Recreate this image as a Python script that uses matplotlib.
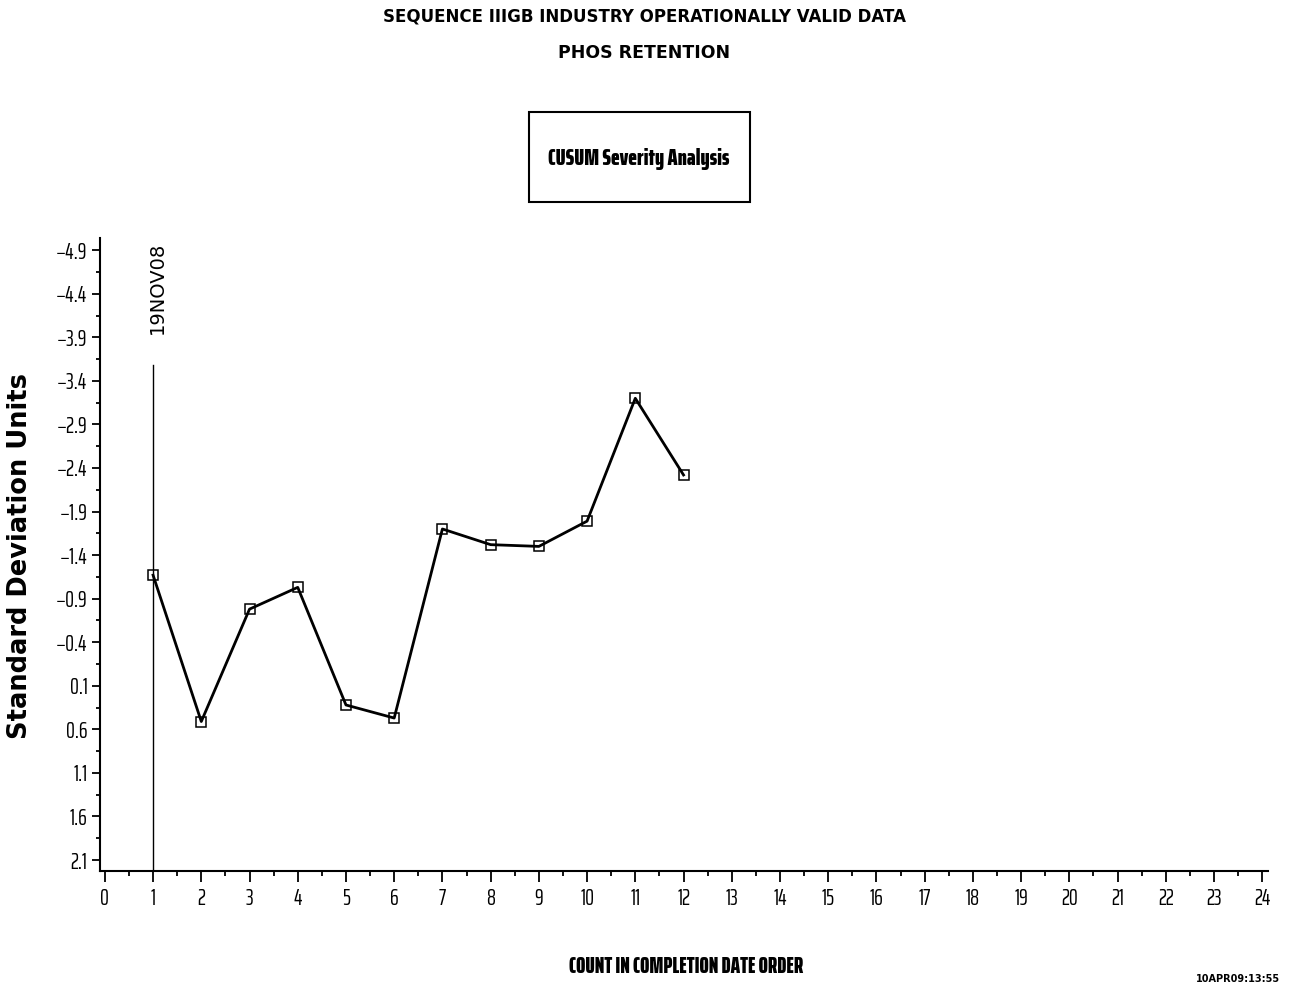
import matplotlib
matplotlib.use("Agg")
import matplotlib.pyplot as plt
from matplotlib.patches import Rectangle
from matplotlib.ticker import MultipleLocator, FixedLocator

# Test count (completion-date order) and CUSUM severity in standard deviation units
count = [1, 2, 3, 4, 5, 6, 7, 8, 9, 10, 11, 12]
severity = [-1.17, 0.51, -0.78, -1.03, 0.32, 0.47, -1.70, -1.52, -1.50, -1.79, -3.20, -2.32]

x_ticks = list(range(0, 25))
y_ticks = [-4.9, -4.4, -3.9, -3.4, -2.9, -2.4, -1.9, -1.4, -0.9, -0.4, 0.1, 0.6, 1.1, 1.6, 2.1]
y_tick_labels = ["\u22124.9", "\u22124.4", "\u22123.9", "\u22123.4", "\u22122.9", "\u22122.4",
                 "\u22121.9", "\u22121.4", "\u22120.9", "\u22120.4", "0.1", "0.6", "1.1", "1.6", "2.1"]

ref_x = 1
ref_label = "19NOV08"
ref_top = -3.58

title1 = "SEQUENCE IIIGB INDUSTRY OPERATIONALLY VALID DATA"
title2 = "PHOS RETENTION"
box_title = "CUSUM Severity Analysis"
x_label = "COUNT IN COMPLETION DATE ORDER"
y_label = "Standard Deviation Units"
stamp = "10APR09:13:55"

NARROW = ["Saira ExtraCondensed", "DejaVu Sans"]
WIDE = ["DejaVu Sans"]

fig = plt.figure(figsize=(12.89, 9.85), dpi=100)
ax = fig.add_axes([0.0776, 0.1157, 0.9837 - 0.0776, 0.7584 - 0.1157])

ax.plot(count, severity, color="black", lw=2.0, marker="s", markersize=7,
        markerfacecolor="none", markeredgecolor="black", markeredgewidth=1.1, zorder=3)

ax.set_xlim(-0.1, 24.12)
ax.set_ylim(2.226, -5.04)

# reference line at the first test with its date label
ylo, yhi = ax.get_ylim()
frac = (ref_top - ylo) / (yhi - ylo)
ax.axvline(ref_x, ymin=0, ymax=frac, color="black", lw=1.0)
ax.text(ref_x + 0.08, -4.47, ref_label, rotation=90, ha="center", va="center",
        fontsize=14, family=WIDE)

ax.xaxis.set_major_locator(FixedLocator(x_ticks))
ax.xaxis.set_minor_locator(MultipleLocator(0.5))
ax.yaxis.set_major_locator(FixedLocator(y_ticks))
ax.yaxis.set_minor_locator(FixedLocator([v + 0.25 for v in y_ticks[:-1]] + [y_ticks[0] - 0.25]))
ax.set_xticklabels([str(v) for v in x_ticks])
ax.set_yticklabels(y_tick_labels)

for lab in ax.get_xticklabels() + ax.get_yticklabels():
    lab.set_family(NARROW)
    lab.set_fontsize(16)

ax.tick_params(axis="x", which="major", length=8, width=1.3, pad=4, direction="out")
ax.tick_params(axis="x", which="minor", length=3.6, width=1.3, direction="out")
ax.tick_params(axis="y", which="major", length=6, width=1.3, pad=3, direction="out")
ax.tick_params(axis="y", which="minor", length=3, width=1.3, direction="out")

for side in ("top", "right"):
    ax.spines[side].set_visible(False)
for side in ("left", "bottom"):
    ax.spines[side].set_linewidth(1.5)

# titles
fig.text(0.5, 1 - 17 / 985, title1, ha="center", va="center", fontsize=12,
         fontweight="bold", family=WIDE)
fig.text(0.5, 1 - 53 / 985, title2, ha="center", va="center", fontsize=12.5,
         fontweight="bold", family=WIDE)

# boxed chart caption
box = Rectangle((529 / 1289, 1 - 202 / 985), (750 - 529) / 1289, (202 - 112) / 985,
                transform=fig.transFigure, fill=False, edgecolor="black", lw=1.5)
fig.add_artist(box)
fig.text(639 / 1289, 1 - 159 / 985, box_title, ha="center", va="center", fontsize=17,
         fontweight=900, family=NARROW)

fig.text(686 / 1289, 1 - 967 / 985, x_label, ha="center", va="center", fontsize=16,
         fontweight=900, family=NARROW)
fig.text(20 / 1289, 1 - 556 / 985, y_label, ha="center", va="center", rotation=90,
         fontsize=18.5, fontweight="bold", family=WIDE)

fig.text(1280 / 1289, 0.001, stamp, ha="right", va="bottom", fontsize=7,
         fontweight="bold", family=WIDE)

fig.savefig("out.png", dpi=100)
